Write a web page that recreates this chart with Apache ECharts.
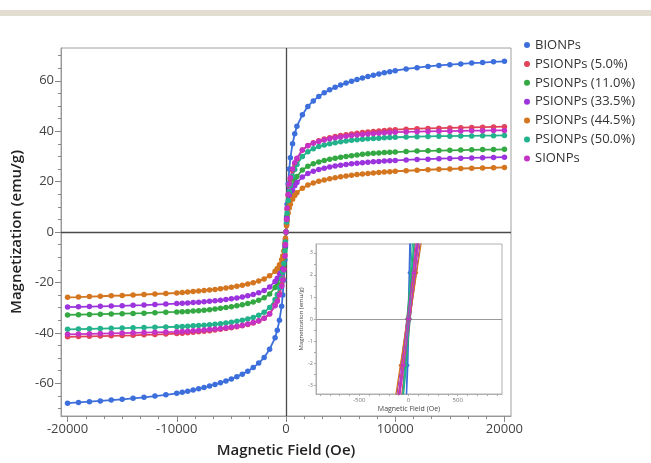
<!DOCTYPE html>
<html>
<head>
<meta charset="utf-8">
<script src="https://cdn.jsdelivr.net/npm/echarts@6/dist/echarts.min.js"></script>
<style>
  html, body { margin: 0; padding: 0; background: #fff; }
  #chart { width: 651px; height: 463px; }
</style>
</head>
<body>
<div id="chart"></div>
<script>
// applied field (Oe), shared by every loop in the main plot
var FIELD = [-20000, -19000, -18000, -17000, -16000, -15000, -14000, -13000, -12000, -11000,
  -10000, -9500, -9000, -8500, -8000, -7500, -7000, -6500, -6000, -5500, -5000, -4500, -4000, -3500, -3000, -2500, -2000, -1500, -1000,
  -800, -600, -400, -300, -200, -100, -50, 0, 50, 100, 200, 300, 400, 600, 800,
  1000, 1500, 2000, 2500, 3000, 3500, 4000, 4500, 5000, 5500, 6000, 6500, 7000, 7500, 8000, 8500, 9000, 9500, 10000,
  11000, 12000, 13000, 14000, 15000, 16000, 17000, 18000, 19000, 20000];

// magnetization (emu/g)
var BIONPS = [-67.9, -67.6, -67.3, -67.0, -66.7, -66.4, -66.0, -65.6, -65.1, -64.6,
  -64.0, -63.6, -63.2, -62.7, -62.2, -61.7, -61.1, -60.5, -59.8, -59.1, -58.3, -57.4, -56.4, -55.2, -53.8, -52.0, -49.8, -46.5, -42.0,
  -39.0, -35.0, -29.5, -25.0, -19.0, -11.0, -6.0, 0, 6, 11, 19, 25, 29.5, 35, 39,
  42, 46.5, 49.8, 52, 53.8, 55.2, 56.4, 57.4, 58.3, 59.1, 59.8, 60.5, 61.1, 61.7, 62.2, 62.7, 63.2, 63.6, 64.0,
  64.7, 65.2, 65.7, 66.1, 66.4, 66.7, 67.0, 67.2, 67.5, 67.7];
var PSIONPS_5 = [-41.6, -41.5, -41.4, -41.3, -41.2, -41.1, -41.0, -40.8, -40.7, -40.5,
  -40.3, -40.2, -40.0, -39.8, -39.6, -39.4, -39.2, -38.9, -38.6, -38.3, -38.0, -37.6, -37.2, -36.7, -36.1, -35.3, -34.2, -32.4, -29.0,
  -27.0, -24.5, -21.0, -18.5, -14.5, -9.0, -5.0, 0, 5, 9, 14.5, 18.5, 21, 24.5, 27,
  29, 32.5, 34.3, 35.4, 36.2, 36.9, 37.4, 37.9, 38.3, 38.6, 38.9, 39.2, 39.5, 39.7, 39.9, 40.1, 40.3, 40.5, 40.6,
  40.8, 41.0, 41.1, 41.2, 41.3, 41.4, 41.5, 41.6, 41.7, 41.8];
var PSIONPS_11 = [-32.9, -32.8, -32.7, -32.6, -32.5, -32.4, -32.3, -32.2, -32.0, -31.8,
  -31.7, -31.6, -31.5, -31.3, -31.2, -31.0, -30.8, -30.5, -30.3, -30.0, -29.7, -29.3, -28.9, -28.4, -27.8, -27.1, -26.1, -24.6, -22.0,
  -20.5, -18.5, -15.5, -13.5, -10.5, -6.5, -3.5, 0, 3.5, 6.5, 10.5, 13.5, 15.5, 18.5, 20.5,
  22, 24.6, 26.1, 27.1, 27.8, 28.4, 28.9, 29.3, 29.7, 30.0, 30.3, 30.5, 30.8, 31.0, 31.2, 31.3, 31.5, 31.6, 31.7,
  31.9, 32.1, 32.2, 32.3, 32.4, 32.5, 32.6, 32.7, 32.7, 32.8];
var PSIONPS_33 = [-29.8, -29.7, -29.6, -29.5, -29.4, -29.3, -29.1, -29.0, -28.8, -28.6,
  -28.4, -28.3, -28.2, -28.0, -27.9, -27.7, -27.5, -27.3, -27.1, -26.8, -26.5, -26.2, -25.8, -25.3, -24.8, -24.1, -23.2, -21.8, -19.6,
  -18.3, -16.5, -14.0, -12.0, -9.5, -5.5, -3.0, 0, 3, 5.5, 9.5, 12, 14, 16.5, 18.3,
  19.6, 21.8, 23.2, 24.1, 24.8, 25.3, 25.8, 26.2, 26.5, 26.8, 27.1, 27.3, 27.5, 27.7, 27.9, 28.0, 28.2, 28.3, 28.4,
  28.6, 28.8, 28.9, 29.1, 29.2, 29.3, 29.4, 29.5, 29.6, 29.7];
var PSIONPS_44 = [-25.9, -25.8, -25.6, -25.5, -25.3, -25.2, -25.0, -24.8, -24.6, -24.4,
  -24.2, -24.0, -23.8, -23.6, -23.4, -23.2, -23.0, -22.8, -22.5, -22.2, -21.9, -21.5, -21.1, -20.6, -20.1, -19.4, -18.6, -17.4, -15.6,
  -14.5, -13.0, -11.0, -9.5, -7.5, -4.5, -2.5, 0, 2.5, 4.5, 7.5, 9.5, 11, 13, 14.5,
  15.6, 17.4, 18.6, 19.4, 20.1, 20.6, 21.1, 21.5, 21.9, 22.2, 22.5, 22.8, 23.0, 23.2, 23.4, 23.6, 23.8, 23.9, 24.1,
  24.3, 24.5, 24.7, 24.9, 25.0, 25.2, 25.3, 25.4, 25.5, 25.6];
var PSIONPS_50 = [-38.6, -38.5, -38.4, -38.3, -38.2, -38.1, -38.0, -37.9, -37.8, -37.7,
  -37.6, -37.5, -37.4, -37.2, -37.1, -37.0, -36.8, -36.6, -36.4, -36.1, -35.8, -35.4, -35.0, -34.5, -33.9, -33.0, -31.8, -30.0, -26.8,
  -24.8, -22.0, -18.5, -16.0, -12.5, -7.5, -4.0, 0, 4, 7.5, 12.5, 16, 18.5, 22, 24.8,
  26.8, 30, 31.8, 33, 33.9, 34.5, 35.0, 35.4, 35.8, 36.1, 36.4, 36.6, 36.8, 37.0, 37.1, 37.2, 37.4, 37.5, 37.6,
  37.7, 37.8, 37.9, 38.0, 38.0, 38.1, 38.1, 38.2, 38.2, 38.3];
var SIONPS = [-40.6, -40.5, -40.4, -40.3, -40.2, -40.1, -40.0, -39.9, -39.8, -39.7,
  -39.6, -39.5, -39.4, -39.2, -39.1, -38.9, -38.7, -38.5, -38.3, -38.0, -37.7, -37.4, -37.0, -36.5, -35.9, -35.2, -34.2, -32.5, -29.3,
  -27.5, -25.0, -21.5, -19.0, -15.0, -9.5, -5.0, 0, 5, 9.5, 15, 19, 21.5, 25, 27.5,
  29.3, 32.5, 34.2, 35.2, 35.9, 36.5, 37.0, 37.4, 37.7, 38.0, 38.3, 38.5, 38.7, 38.9, 39.1, 39.2, 39.4, 39.5, 39.6,
  39.7, 39.8, 39.9, 40.0, 40.0, 40.1, 40.2, 40.2, 40.3, 40.3];

// low-field inset: both branches of each loop, M shared, H per sample
var INSET_M = [4.2, 2.1, 0, -2.1, -4.2, -4.2, -2.1, 0, 2.1, 4.2];
var INSET_BIONPS = [16, 6, -5, -15, -26, -16, -6, 5, 15, 26];
var INSET_PSIONPS_5 = [87, 36, -14, -64, -115, -87, -36, 14, 64, 115];
var INSET_PSIONPS_11 = [74, 28, -18, -64, -110, -74, -28, 18, 64, 110];
var INSET_PSIONPS_33 = [111, 48, -15, -78, -141, -111, -48, 15, 78, 141];
var INSET_PSIONPS_44 = [131, 59, -12, -83, -155, -131, -59, 12, 83, 155];
var INSET_PSIONPS_50 = [51, 21, -8, -37, -67, -51, -21, 8, 37, 67];
var INSET_SIONPS = [99, 45, -10, -65, -119, -99, -45, 10, 65, 119];

var NAMES = ['BIONPs', 'PSIONPs (5.0%)', 'PSIONPs (11.0%)', 'PSIONPs (33.5%)', 'PSIONPs (44.5%)', 'PSIONPs (50.0%)', 'SIONPs'];
var COLORS = ['#3d6fdc', '#e0435a', '#33a843', '#9c34de', '#d4761f', '#22b28c', '#c533c6'];
var MAIN = [BIONPS, PSIONPS_5, PSIONPS_11, PSIONPS_33, PSIONPS_44, PSIONPS_50, SIONPS];
var INSET = [INSET_BIONPS, INSET_PSIONPS_5, INSET_PSIONPS_11, INSET_PSIONPS_33, INSET_PSIONPS_44, INSET_PSIONPS_50, INSET_SIONPS];

// tick labels
var X_LABELS = [-20000, -10000, 0, 10000, 20000];
var X_MINOR = [-18333, -16667, -15000, -13333, -11667, -8333, -6667, -5000, -3333, -1667,
  1667, 3333, 5000, 6667, 8333, 11667, 13333, 15000, 16667, 18333];
var Y_LABELS = [-60, -40, -20, 0, 20, 40, 60];
var Y_MINOR = [-70, -65, -55, -50, -45, -35, -30, -25, -15, -10, -5, 5, 10, 15, 25, 30, 35, 45, 50, 55, 65, 70];
var INSET_X_LABELS = [-500, 0, 500];
var INSET_X_TICKS = [-900, -800, -700, -600, -500, -400, -300, -200, -100, 0, 100, 200, 300, 400, 500, 600, 700, 800, 900];
var INSET_Y_LABELS = [-3, -2, -1, 0, 1, 2, 3];
var INSET_Y_TICKS = [-3, -2.5, -2, -1.5, -1, -0.5, 0, 0.5, 1, 1.5, 2, 2.5, 3];

var FONT = '"Open Sans", "DejaVu Sans", sans-serif';

var myChart = echarts.init(document.getElementById('chart'), null, { renderer: 'canvas' });

function plain(v) { return String(v); }

var series = [];
MAIN.forEach(function (vals, i) {
  var s = {
    name: NAMES[i],
    type: 'line',
    xAxisIndex: 0,
    yAxisIndex: 0,
    data: FIELD.map(function (h, k) { return [h, vals[k]]; }),
    symbol: 'circle',
    symbolSize: 5.5,
    color: COLORS[i],
    lineStyle: { width: 1.8 },
    z: 3
  };
  if (i === 0) {
    s.markLine = {
      silent: true,
      symbol: ['none', 'none'],
      label: { show: false },
      lineStyle: { color: '#4a4a4a', width: 1.3, type: 'solid' },
      data: [{ xAxis: 0 }, { yAxis: 0 }],
      z: 2
    };
  }
  series.push(s);
});
INSET.forEach(function (hs, i) {
  var s = {
    name: NAMES[i],
    type: 'line',
    xAxisIndex: 2,
    yAxisIndex: 2,
    data: hs.map(function (h, k) { return [h, INSET_M[k]]; }),
    symbol: 'circle',
    symbolSize: 3,
    color: COLORS[i],
    lineStyle: { width: 1.2 },
    clip: true,
    z: 5
  };
  if (i === 0) {
    s.markLine = {
      silent: true,
      symbol: ['none', 'none'],
      label: { show: false },
      lineStyle: { color: '#9a9a9a', width: 1, type: 'solid' },
      data: [{ yAxis: 0 }]
    };
  }
  series.push(s);
});

var option = {
  animation: false,
  backgroundColor: '#fff',
  textStyle: { fontFamily: FONT },
  graphic: [{
    type: 'rect',
    left: 0,
    top: 10,
    shape: { width: 651, height: 6 },
    style: { fill: '#e2ddd0' },
    silent: true
  }],
  legend: {
    data: NAMES,
    orient: 'vertical',
    left: 519,
    top: 33,
    icon: 'circle',
    itemWidth: 6,
    itemHeight: 6,
    itemGap: 4.9,
    itemTextGap: 6,
    textStyle: { fontSize: 13, color: '#333', lineHeight: 14, fontFamily: FONT }
  },
  grid: [
    { left: 61, top: 48, width: 450, height: 369, show: true, borderColor: '#a0a0a0', borderWidth: 1, containLabel: false },
    { left: 316, top: 244, width: 186, height: 150, show: true, borderColor: '#b0b0b0', borderWidth: 1, backgroundColor: '#fff', containLabel: false }
  ],
  xAxis: [
    {
      gridIndex: 0, type: 'value', min: -20600, max: 20600, position: 'bottom',
      axisLine: { show: true, onZero: false, lineStyle: { color: '#999' } },
      axisTick: { show: true, length: 6, customValues: X_LABELS, lineStyle: { color: '#888' } },
      axisLabel: { customValues: X_LABELS, formatter: plain, fontSize: 13, color: '#444', margin: 7, fontFamily: FONT },
      splitLine: { show: false },
      name: 'Magnetic Field (Oe)', nameLocation: 'middle', nameGap: 27,
      nameTextStyle: { fontSize: 15, color: '#222', fontWeight: 600, fontFamily: FONT }
    },
    {
      gridIndex: 0, type: 'value', min: -20600, max: 20600, position: 'bottom', offset: 0,
      axisLine: { show: false, onZero: false },
      axisTick: { show: true, length: 3, customValues: X_MINOR, lineStyle: { color: '#888' } },
      axisLabel: { show: false },
      splitLine: { show: false }
    },
    {
      gridIndex: 1, type: 'value', min: -940, max: 950, position: 'bottom',
      axisLine: { show: true, onZero: false, lineStyle: { color: '#b0b0b0' } },
      axisTick: { show: true, length: 2, customValues: INSET_X_TICKS, lineStyle: { color: '#aaa' } },
      axisLabel: { customValues: INSET_X_LABELS, formatter: plain, fontSize: 6, color: '#777', margin: 3, fontFamily: FONT },
      splitLine: { show: false },
      name: 'Magnetic Field (Oe)', nameLocation: 'middle', nameGap: 11,
      nameTextStyle: { fontSize: 7, color: '#444', fontFamily: FONT }
    }
  ],
  yAxis: [
    {
      gridIndex: 0, type: 'value', min: -73, max: 73, position: 'left',
      axisLine: { show: true, onZero: false, lineStyle: { color: '#999' } },
      axisTick: { show: true, length: 6, customValues: Y_LABELS, lineStyle: { color: '#888' } },
      axisLabel: { customValues: Y_LABELS, formatter: plain, fontSize: 13, color: '#444', margin: 7, fontFamily: FONT },
      splitLine: { show: false },
      name: 'Magnetization (emu/g)', nameLocation: 'middle', nameGap: 35,
      nameTextStyle: { fontSize: 15, color: '#222', fontWeight: 600, fontFamily: FONT }
    },
    {
      gridIndex: 0, type: 'value', min: -73, max: 73, position: 'left', offset: 0,
      axisLine: { show: false, onZero: false },
      axisTick: { show: true, length: 3, customValues: Y_MINOR, lineStyle: { color: '#888' } },
      axisLabel: { show: false },
      splitLine: { show: false }
    },
    {
      gridIndex: 1, type: 'value', min: -3.4, max: 3.4, position: 'left',
      axisLine: { show: true, onZero: false, lineStyle: { color: '#b0b0b0' } },
      axisTick: { show: true, length: 2, customValues: INSET_Y_TICKS, lineStyle: { color: '#aaa' } },
      axisLabel: { customValues: INSET_Y_LABELS, formatter: plain, fontSize: 5.5, color: '#777', margin: 3, fontFamily: FONT },
      splitLine: { show: false },
      name: 'Magnetization (emu/g)', nameLocation: 'middle', nameGap: 10,
      nameTextStyle: { fontSize: 6, color: '#444', fontFamily: FONT }
    }
  ],
  series: series
};

myChart.setOption(option);
</script>
</body>
</html>
